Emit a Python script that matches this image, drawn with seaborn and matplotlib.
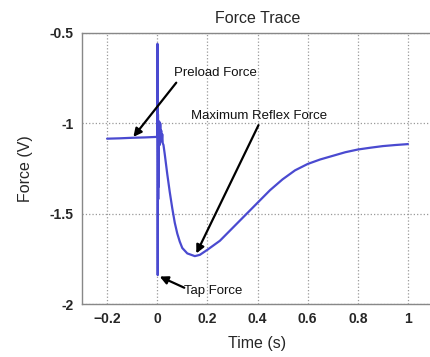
import matplotlib
matplotlib.use("Agg")
import matplotlib.pyplot as plt
import seaborn as sns
import pandas as pd

# Force trace (time in s, force in V)
time_s = [
    -0.2, -0.15, -0.1, -0.05, 0.0, 0.001, 0.002, 0.003, 0.004, 0.005,
    0.006, 0.007, 0.008, 0.010, 0.012, 0.014, 0.016, 0.018, 0.020, 0.022,
    0.025, 0.03, 0.04, 0.05, 0.06, 0.07, 0.08, 0.09, 0.10, 0.12,
    0.15, 0.17, 0.2, 0.25, 0.3, 0.35, 0.4, 0.45, 0.5, 0.55,
    0.6, 0.65, 0.7, 0.75, 0.8, 0.85, 0.9, 0.95, 1.0,
]
force_v = [
    -1.085, -1.083, -1.08, -1.078, -1.075, -0.56, -1.84, -0.95, -1.42, -1.0,
    -1.35, -1.02, -0.99, -1.12, -1.0, -1.08, -1.04, -1.1, -1.06, -1.11,
    -1.12, -1.17, -1.28, -1.38, -1.47, -1.55, -1.61, -1.655, -1.69, -1.72,
    -1.735, -1.728, -1.70, -1.65, -1.58, -1.51, -1.44, -1.37, -1.31, -1.26,
    -1.225, -1.20, -1.18, -1.16, -1.145, -1.135, -1.126, -1.12, -1.115,
]

x_ticks = [-0.2, 0, 0.2, 0.4, 0.6, 0.8, 1]
x_tick_labels = ["\u22120.2", "0", "0.2", "0.4", "0.6", "0.8", "1"]
y_ticks = [-2, -1.5, -1, -0.5]
y_tick_labels = ["-2", "-1.5", "-1", "-0.5"]

# annotations: label, text position, arrow start, arrow tip
notes = [
    ("Preload Force", (0.068, -0.722), (0.076, -0.775), (-0.095, -1.075)),
    ("Maximum Reflex Force", (0.136, -0.961), (0.404, -1.01), (0.156, -1.72)),
    ("Tap Force", (0.108, -1.928), (0.108, -1.91), (0.010, -1.848)),
]


def main():
    sns.set_style("white")
    plt.rcParams["font.family"] = ["Liberation Sans", "DejaVu Sans"]

    df = pd.DataFrame({"Time (s)": time_s, "Force (V)": force_v})

    fig = plt.figure(figsize=(4.30, 3.57), dpi=100)
    ax = fig.add_axes([82 / 430, 53 / 357, 351 / 430, 271 / 357])
    sns.lineplot(
        data=df, x="Time (s)", y="Force (V)", ax=ax, sort=False,
        estimator=None, color="#4a4ad0", linewidth=1.6,
    )

    ax.set_xlim(-0.3, 1.1)
    ax.set_ylim(-2, -0.5)
    ax.set_xticks(x_ticks)
    ax.set_xticklabels(x_tick_labels, fontsize=10, fontweight="bold")
    ax.set_yticks(y_ticks)
    ax.set_yticklabels(y_tick_labels, fontsize=10, fontweight="bold")
    ax.tick_params(direction="in", length=3, color="#777777", pad=6)
    ax.grid(True, linestyle=":", color="#999999", linewidth=0.9)
    for sp in ax.spines.values():
        sp.set_color("#888888")
        sp.set_linewidth(1.0)

    ax.set_xlabel("Time (s)", fontsize=11.5, labelpad=7)
    ax.set_ylabel("Force (V)", fontsize=11.5, labelpad=12)
    ax.set_title("Force Trace", fontsize=11.5, pad=7)

    for label, txt, start, tip in notes:
        ax.text(txt[0], txt[1], label, fontsize=9.5, ha="left", va="center",
                color="#111111")
        ax.annotate(
            "", xy=tip, xytext=start,
            arrowprops=dict(arrowstyle="-|>", color="black", lw=1.6,
                            mutation_scale=12, shrinkA=0, shrinkB=0),
        )

    fig.savefig("out.png", dpi=100)
    plt.close(fig)


if __name__ == "__main__":
    main()
